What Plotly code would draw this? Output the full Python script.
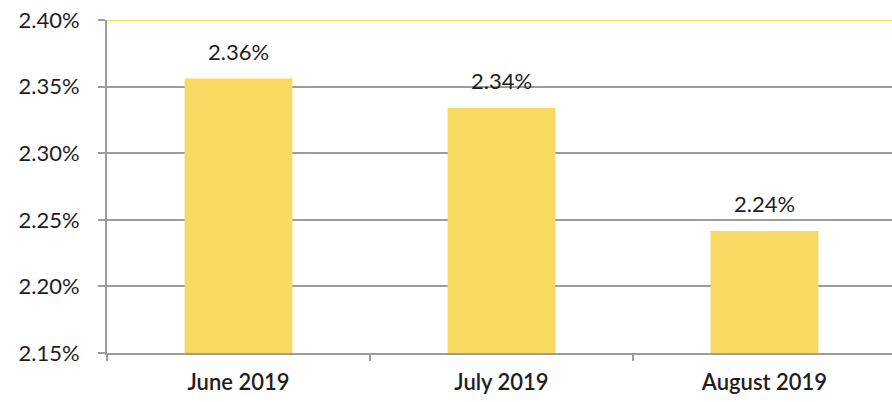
import plotly.graph_objects as go

categories = ["June 2019", "July 2019", "August 2019"]
values = [2.356, 2.334, 2.2415]
labels = ["2.36%", "2.34%", "2.24%"]
ytick_vals = [2.15, 2.20, 2.25, 2.30, 2.35, 2.40]
ytick_text = ["2.15%", "2.20%", "2.25%", "2.30%", "2.35%", "2.40%"]

BAR = "#F8DA63"
GRID = "#9C9C9C"
TXT = "#1E1E1E"
FONT = "Lato"

fig = go.Figure()
fig.add_trace(go.Bar(x=categories, y=values, marker=dict(color=BAR, line=dict(width=0)),
                     width=0.41, hoverinfo="skip"))

for c, v, t in zip(categories, values, labels):
    fig.add_annotation(x=c, y=v, text=t, showarrow=False, yanchor="bottom", yshift=12,
                       font=dict(family=FONT, size=22, color=TXT))

fig.add_shape(type="line", xref="paper", x0=0, x1=1, yref="y", y0=2.40, y1=2.40,
              line=dict(color="#F5E04A", width=2))

fig.update_layout(
    width=892, height=402,
    margin=dict(l=107, r=0, t=20, b=49),
    paper_bgcolor="white", plot_bgcolor="white",
    showlegend=False,
    xaxis=dict(type="category", range=[-0.5, 2.485], showline=True, linecolor=GRID, linewidth=2,
               ticks="outside", tickson="boundaries", ticklen=6, tickcolor=GRID, tickwidth=1.5,
               tickfont=dict(family=FONT, size=22, color=TXT, weight=600), ticklabelstandoff=9,
               showgrid=False, zeroline=False),
    yaxis=dict(range=[2.15, 2.40], tickvals=ytick_vals, ticktext=ytick_text,
               showline=True, linecolor=GRID, linewidth=2,
               ticks="outside", ticklen=7, tickcolor=GRID, tickwidth=1.5,
               tickfont=dict(family=FONT, size=22, color=TXT), ticklabelstandoff=14,
               showgrid=True, gridcolor=GRID, gridwidth=1.5, zeroline=False),
)

fig.write_html("out.html")
